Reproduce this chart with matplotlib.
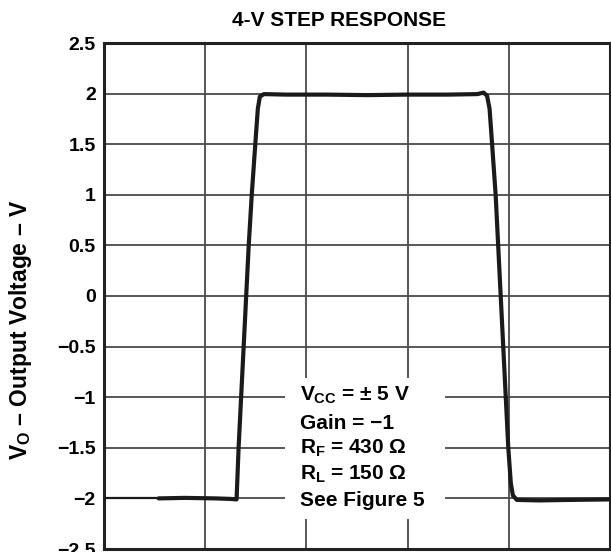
import matplotlib
matplotlib.use("Agg")
import matplotlib.pyplot as plt
from matplotlib.patches import Rectangle

plt.rcParams["font.family"] = ["Liberation Sans", "DejaVu Sans"]
plt.rcParams["font.weight"] = "bold"
plt.rcParams["mathtext.fontset"] = "custom"
plt.rcParams["mathtext.rm"] = "Liberation Sans:bold"
plt.rcParams["mathtext.it"] = "Liberation Sans:bold"
plt.rcParams["mathtext.bf"] = "Liberation Sans:bold"

# Output voltage trace (time in ns, voltage in V)
lead_time = [0.0, 5.4]
lead_vout = [-2.0, -2.0]

time_ns = [5.4, 8.0, 11.0, 12.5, 13.1, 13.3, 13.55, 13.8, 14.05, 14.3, 14.6,
           14.95, 15.2, 15.4, 15.8, 18.0, 22.0, 26.0, 30.0, 34.0, 36.9, 37.5,
           37.85, 38.1, 38.35, 38.7, 39.2, 39.7, 39.95, 40.2, 40.4, 40.8,
           43.0, 46.0, 50.0]
vout = [-2.0, -1.995, -2.0, -2.005, -2.01, -1.5, -1.0, -0.5, 0.0, 0.5, 1.0,
        1.5, 1.85, 1.97, 1.995, 1.99, 1.99, 1.985, 1.99, 1.99, 1.995, 2.01,
        1.98, 1.85, 1.5, 1.0, 0.0, -1.0, -1.5, -1.85, -1.97, -2.015,
        -2.02, -2.015, -2.01]

y_ticks = [2.5, 2.0, 1.5, 1.0, 0.5, 0.0, -0.5, -1.0, -1.5, -2.0, -2.5]
y_tick_labels = ["2.5", "2", "1.5", "1", "0.5", "0", "\u22120.5", "\u22121",
                 "\u22121.5", "\u22122", "\u22122.5"]
x_ticks = [0, 10, 20, 30, 40, 50]

title = "4-V STEP RESPONSE"
y_label = "$V_O$ \u2013 Output Voltage \u2013 V"
notes = [r"$V_{CC}$ = $\pm$ 5 V", "Gain = \u22121", "$R_F$ = 430 \u03a9",
         "$R_L$ = 150 \u03a9", "See Figure 5"]

fig = plt.figure(figsize=(6.11, 5.52), dpi=100)
ax = fig.add_axes([104 / 611, 3 / 552, 506 / 611, 506 / 552])

ax.set_xlim(0, 50)
ax.set_ylim(-2.5, 2.5)
ax.set_xticks(x_ticks)
ax.set_yticks(y_ticks)
ax.set_yticklabels(y_tick_labels, fontsize=14, fontweight="bold")
ax.tick_params(axis="both", length=0, pad=6)
ax.tick_params(axis="x", labelbottom=False)
ax.set_axisbelow(True)
ax.grid(True, color="#4a4a4a", linewidth=1.3)
for sp in ax.spines.values():
    sp.set_linewidth(2.2)
    sp.set_color("#222222")

ax.plot(lead_time, lead_vout, color="#1a1a1a", linewidth=1.6, zorder=3)
ax.plot(time_ns, vout, color="#1a1a1a", linewidth=3.0, zorder=3,
        solid_joinstyle="round", solid_capstyle="round")

# White panel behind the test-condition notes
ax.add_patch(Rectangle((17.9, -2.204), 15.8, 1.394, facecolor="white",
                       edgecolor="none", zorder=1))

note_y = [-0.98, -1.255, -1.505, -1.76, -2.02]
for txt, yv in zip(notes, note_y):
    ax.text(19.4, yv, txt, fontsize=15, fontweight="bold", ha="left",
            va="center", zorder=4)

fig.text(339 / 611, 1 - 20 / 552, title, fontsize=15, fontweight="bold",
         ha="center", va="center")
fig.text(21 / 611, 1 - 330 / 552, y_label, fontsize=16.5, fontweight="bold",
         rotation=90, ha="center", va="center")

fig.savefig("out.png", dpi=100)
